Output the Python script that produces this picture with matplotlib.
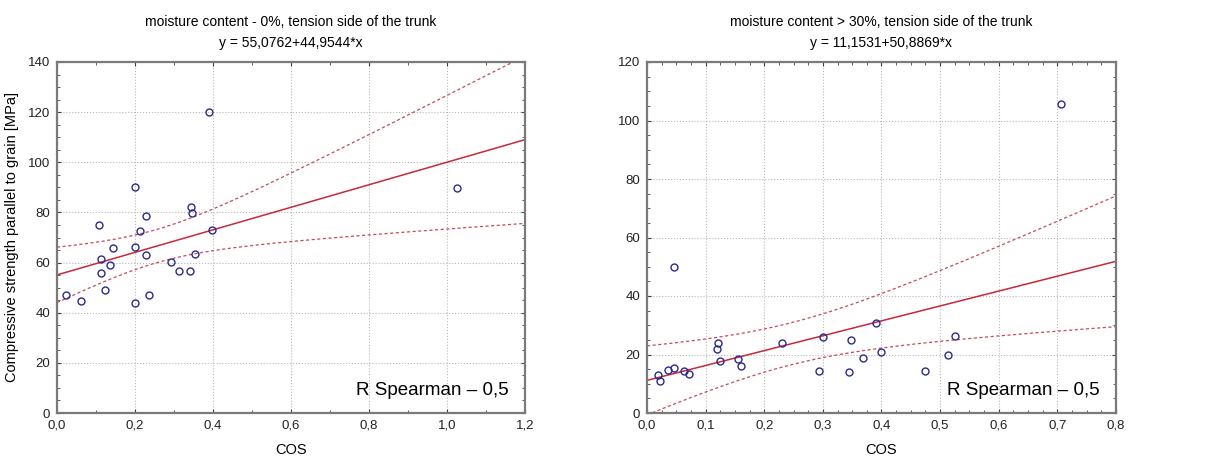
import numpy as np
import matplotlib.pyplot as plt
from matplotlib.ticker import MultipleLocator, FuncFormatter
from matplotlib import font_manager

# data
cos_dry = [0.022, 0.062, 0.107, 0.113, 0.113, 0.123, 0.137, 0.144, 0.200, 0.200,
           0.200, 0.214, 0.227, 0.229, 0.237, 0.293, 0.313, 0.340, 0.343, 0.347,
           0.353, 0.390, 0.397, 1.025]
str_dry = [46.9, 44.8, 75.0, 61.6, 56.0, 49.0, 59.1, 65.7, 90.3, 66.4,
           44.0, 72.4, 78.7, 63.0, 47.1, 60.4, 56.6, 56.6, 82.0, 79.7,
           63.3, 120.0, 72.8, 89.9]

cos_wet = [0.018, 0.022, 0.036, 0.046, 0.0456, 0.063, 0.071, 0.120, 0.121, 0.124,
           0.155, 0.161, 0.231, 0.293, 0.301, 0.345, 0.348, 0.369, 0.391, 0.400,
           0.474, 0.514, 0.526, 0.706]
str_wet = [13.1, 10.8, 14.8, 15.3, 49.8, 14.5, 13.5, 21.9, 24.0, 17.7,
           18.6, 16.1, 23.8, 14.4, 26.0, 13.9, 24.9, 18.9, 30.8, 20.7,
           14.4, 19.9, 26.4, 105.8]

fit_dry = (55.0762, 44.9544)
fit_wet = (11.1531, 50.8869)

titles = ["moisture content - 0%, tension side of the trunk\ny = 55,0762+44,9544*x",
          "moisture content > 30%, tension side of the trunk\ny = 11,1531+50,8869*x"]

names = {f.name for f in font_manager.fontManager.ttflist}
narrow = "Liberation Sans Narrow" if "Liberation Sans Narrow" in names else "Liberation Sans"
plt.rcParams["font.family"] = ["Liberation Sans", "DejaVu Sans"]

line_col = "#c8283c"
band_col = "#c84a5a"
pt_col = "#2b2b8c"
T_CRIT = 2.074  # t(0.975, df=22)

xfmt = FuncFormatter(lambda v, pos: f"{v:.1f}".replace(".", ","))
yfmt = FuncFormatter(lambda v, pos: f"{v:.0f}")


def panel(ax, x, y, fit, xmax, xmaj, xmin, ymax, title):
    x = np.array(x)
    y = np.array(y)
    b0, b1 = fit
    n = len(x)
    resid = y - (b0 + b1 * x)
    s = np.sqrt(np.sum(resid ** 2) / (n - 2))
    sxx = np.sum((x - x.mean()) ** 2)
    xs = np.linspace(0, xmax, 200)
    yh = b0 + b1 * xs
    hw = T_CRIT * s * np.sqrt(1 / n + (xs - x.mean()) ** 2 / sxx)

    ax.plot(xs, yh, color=line_col, lw=1.1)
    ax.plot(xs, yh + hw, color=band_col, lw=0.9, ls=(0, (2.5, 2)))
    ax.plot(xs, yh - hw, color=band_col, lw=0.9, ls=(0, (2.5, 2)))
    ax.plot(x, y, "o", mfc="none", mec=pt_col, ms=5, mew=1.0, clip_on=False)

    ax.set_xlim(0, xmax)
    ax.set_ylim(0, ymax)
    ax.xaxis.set_major_locator(MultipleLocator(xmaj))
    ax.xaxis.set_minor_locator(MultipleLocator(xmin))
    ax.yaxis.set_major_locator(MultipleLocator(20))
    ax.yaxis.set_minor_locator(MultipleLocator(5))
    ax.xaxis.set_major_formatter(xfmt)
    ax.yaxis.set_major_formatter(yfmt)
    ax.tick_params(which="both", direction="in", top=True, right=True,
                   color="#404040", labelsize=9.5, pad=5)
    ax.tick_params(which="major", length=3)
    ax.tick_params(which="minor", length=2)
    for lab in ax.get_xticklabels() + ax.get_yticklabels():
        lab.set_fontfamily(narrow)
        lab.set_color("#222222")
    ax.grid(True, which="major", color="#b8b8b8", ls=":", lw=0.8)
    for sp in ax.spines.values():
        sp.set_color("#7a7a7a")
        sp.set_linewidth(1.6)
    ax.set_title(title, fontsize=10, family=narrow, linespacing=1.6, pad=11)
    ax.set_xlabel("COS", fontsize=10.5, labelpad=8)
    ax.text(0.965, 0.065, "R Spearman \u2013 0,5", transform=ax.transAxes,
            ha="right", va="center", fontsize=13.5)


fig = plt.figure(figsize=(12.1, 4.59), dpi=100)
ax1 = fig.add_axes([57 / 1210, 1 - 413 / 459, 468 / 1210, 351 / 459])
ax2 = fig.add_axes([647 / 1210, 1 - 413 / 459, 469 / 1210, 351 / 459])

panel(ax1, cos_dry, str_dry, fit_dry, 1.2, 0.2, 0.1, 140, titles[0])
panel(ax2, cos_wet, str_wet, fit_wet, 0.8, 0.1, 0.025, 120, titles[1])
ax1.set_ylabel("Compressive strength parallel to grain [MPa]", fontsize=10.5, labelpad=6)

fig.savefig("out.png", dpi=100)
